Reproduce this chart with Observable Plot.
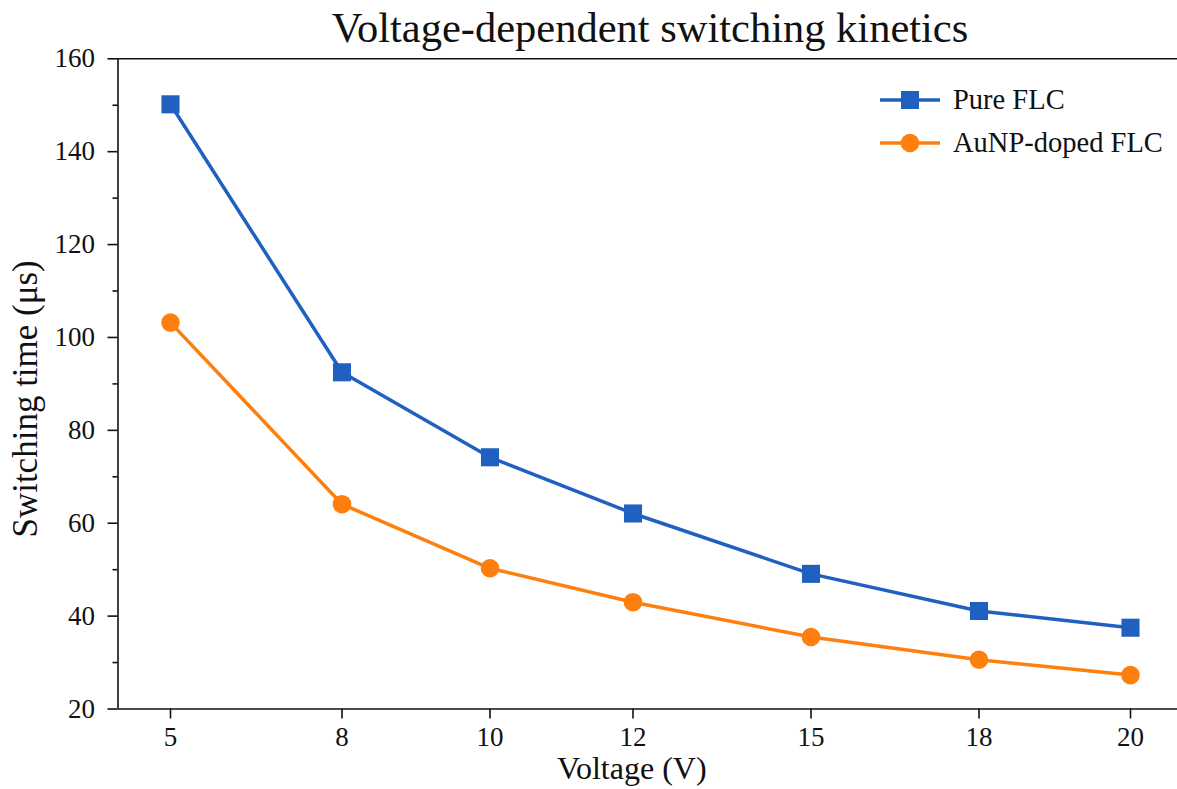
<!DOCTYPE html>
<html>
<head>
<meta charset="utf-8">
<script src="https://cdn.jsdelivr.net/npm/d3@7"></script>
<script src="https://cdn.jsdelivr.net/npm/@observablehq/plot@0.6"></script>
<style>
  html, body { margin: 0; padding: 0; background: #fff; overflow: hidden; }
  #wrap { position: relative; width: 1177px; height: 789px; font-family: "Liberation Serif", serif; }
  #title { height: 50px; padding-top: 3px; line-height: 50px; font-size: 42.5px; text-align: center;
           margin-left: 117.5px; width: 1065px; color: #111; white-space: nowrap; }
  #legend { position: absolute; left: 878px; top: 79px; font-size: 28.5px; color: #111; }
  .row { display: flex; align-items: center; height: 42.4px; }
  .row svg { margin-right: 11px; }
</style>
</head>
<body>
<div id="wrap">
  <div id="title"></div>
  <div id="chart"></div>
  <div id="legend"></div>
</div>
<script>
const titleText = "Voltage-dependent switching kinetics";
const xLabel = "Voltage (V)";
const yLabel = "Switching time (μs)";

const voltages = [5, 8, 10, 12, 15, 18, 20];
const pureFLC = [150.2, 92.5, 74.2, 62.1, 49.1, 41.1, 37.5];
const dopedFLC = [103.2, 64.1, 50.3, 43.0, 35.5, 30.6, 27.3];

const seriesNames = ["Pure FLC", "AuNP-doped FLC"];
const seriesColors = ["#1f60c0", "#ff7f0e"];
const seriesSymbols = ["square", "circle"];

const xTicks = [5, 8, 10, 12, 15, 18, 20];
const yTicks = [20, 40, 60, 80, 100, 120, 140, 160];
const yMinorTicks = [30, 50, 70, 90, 110, 130, 150];
const yDomain = [20, 160];

// The reference's x axis spaces its ticks unevenly; a piecewise linear warp of the
// voltage axis reproduces that spacing (axis units: 0 at the left spine).
const xWarp = d3.scaleLinear()
  .domain([4.18, 5, 8, 10, 12, 15, 18, 20, 20.62])
  .range([0, 52.5, 224, 372, 515, 693, 861, 1012.5, 1059.5]);
const xDomain = [0, 1059.5];

const rows = [];
voltages.forEach((v, i) => {
  rows.push({series: seriesNames[0], v, t: pureFLC[i]});
  rows.push({series: seriesNames[1], v, t: dopedFLC[i]});
});
const X = d => xWarp(d.v);

document.getElementById("title").textContent = titleText;

const ink = "#111";
const plot = Plot.plot({
  width: 1177,
  height: 736,
  marginTop: 5.3,
  marginBottom: 80.5,
  marginLeft: 117.5,
  marginRight: 0,
  style: {fontFamily: "Liberation Serif", fontSize: "27px", color: ink, background: "transparent", overflow: "visible"},
  x: {domain: xDomain},
  y: {domain: yDomain},
  color: {domain: seriesNames, range: seriesColors},
  symbol: {domain: seriesNames, range: seriesSymbols},
  marks: [
    Plot.axisY({ticks: yMinorTicks, tickSize: 5, text: null, strokeWidth: 1.6, label: null}),
    Plot.axisY({ticks: yTicks, tickSize: 10, tickPadding: 13, strokeWidth: 1.6, label: null}),
    Plot.axisX({ticks: xTicks.map(v => xWarp(v)), tickFormat: u => d3.format("d")(Math.round(xWarp.invert(u))),
                tickSize: 10, tickPadding: 8, strokeWidth: 1.6, label: null}),
    Plot.ruleX([xDomain[0]], {stroke: ink, strokeWidth: 1.6}),
    Plot.ruleY([yDomain[0]], {stroke: ink, strokeWidth: 1.6}),
    Plot.ruleY([yDomain[1]], {stroke: ink, strokeWidth: 1.6}),
    Plot.line(rows, {x: X, y: "t", z: "series", stroke: "series", strokeWidth: 3.5}),
    Plot.dot(rows.filter(d => d.series === seriesNames[0]), {x: X, y: "t", fill: "series", symbol: "series", r: 10.2, stroke: null}),
    Plot.dot(rows.filter(d => d.series === seriesNames[1]), {x: X, y: "t", fill: "series", symbol: "series", r: 9.3, stroke: null}),
    Plot.text([xLabel], {frameAnchor: "bottom", textAnchor: "middle", dx: -16, dy: 69.5, lineAnchor: "bottom", fontSize: 32, fill: ink}),
    Plot.text([yLabel], {frameAnchor: "left", textAnchor: "middle", rotate: -90, dx: -81.5, dy: 15, lineAnchor: "bottom", fontSize: 35, fill: ink})
  ]
});
document.getElementById("chart").appendChild(plot);

// legend
const legend = document.getElementById("legend");
seriesNames.forEach((name, i) => {
  const row = document.createElement("div");
  row.className = "row";
  const sw = d3.create("svg").attr("width", 64).attr("height", 24);
  sw.append("line").attr("x1", 2).attr("x2", 62).attr("y1", 12).attr("y2", 12)
    .attr("stroke", seriesColors[i]).attr("stroke-width", 3.5);
  if (seriesSymbols[i] === "square") {
    sw.append("rect").attr("x", 32 - 9).attr("y", 12 - 9).attr("width", 18).attr("height", 18).attr("fill", seriesColors[i]);
  } else {
    sw.append("circle").attr("cx", 32).attr("cy", 12).attr("r", 9.3).attr("fill", seriesColors[i]);
  }
  row.appendChild(sw.node());
  const label = document.createElement("span");
  label.textContent = name;
  row.appendChild(label);
  legend.appendChild(row);
});
</script>
</body>
</html>
